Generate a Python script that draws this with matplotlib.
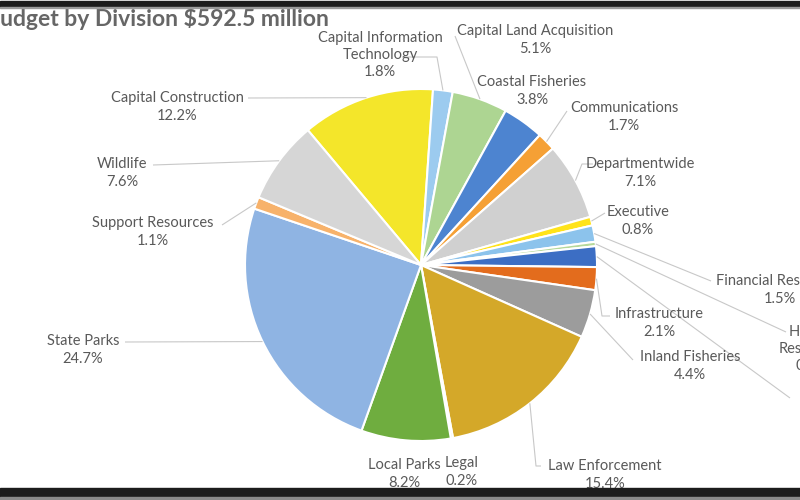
import matplotlib
matplotlib.use('Agg')
import matplotlib.pyplot as plt
from matplotlib.patches import Rectangle
import numpy as np

# data (alphabetical, as the slices run clockwise)
divisions = ['Capital Construction', 'Capital Information\nTechnology', 'Capital Land Acquisition',
             'Coastal Fisheries', 'Communications', 'Departmentwide', 'Executive',
             'Financial Resources', 'Human\nResources', 'Information\nTechnology', 'Infrastructure',
             'Inland Fisheries', 'Law Enforcement', 'Legal', 'Local Parks', 'State Parks',
             'Support Resources', 'Wildlife']
shares = [12.2, 1.8, 5.1, 3.8, 1.7, 7.1, 0.8, 1.5, 0.4, 1.9, 2.1, 4.4, 15.4, 0.2, 8.2, 24.7, 1.1, 7.6]
colors = ['#F4E62A', '#9CCBEF', '#ADD592', '#4D84D0', '#F5A035', '#D0D0D0', '#FFE31A',
          '#8CC3EC', '#B5D89A', '#3C6EC4', '#E36C1D', '#9C9C9C', '#D4A829', '#C8B040',
          '#6FAD3F', '#8FB4E3', '#F7B26B', '#D6D6D6']
title = 'Budget by Division $592.5 million'

# label layout in pixel coords (x right, y down): text centre, leader points from label side
label_pos = [(177, 107), (380, 55), (535, 40), (532, 91), (624, 117), (640, 173), (638, 221),
             (780, 290), (812, 349), (840, 405), (659, 323), (690, 366), (605, 475), (462, 472),
             (404, 474), (83, 350), (153, 232), (122, 173)]
leaders = [[(248, 98)], [(402, 57), (437, 57)], [(455, 36)], None, [(567, 111)],
           [(593, 164), (582, 164)], [(605, 213)], [(711, 281)], [(786, 332)], [(790, 398)],
           [(610, 316), (602, 316)], [(633, 360)], [(541, 466), (536, 466)], None, None,
           [(125, 342)], [(222, 225)], [(153, 165)]]

W, H = 800, 500
cx, cy, r = 421, 265, 176
txt = '#595959'
font = 'Lato'

fig = plt.figure(figsize=(8, 5), dpi=100)
ax = fig.add_axes([0, 0, 1, 1])
wedges, _ = ax.pie(shares, colors=colors, startangle=130, counterclock=False,
                   center=(cx, H - cy), radius=r,
                   wedgeprops=dict(edgecolor='white', linewidth=1.5))
ax.set_xlim(0, W)
ax.set_ylim(0, H)
ax.set_aspect('equal')
ax.axis('off')

for w, name, val, (lx, ly), pts in zip(wedges, divisions, shares, label_pos, leaders):
    mid = np.deg2rad((w.theta1 + w.theta2) / 2)
    ex, ey = cx + r * np.cos(mid), (H - cy) + r * np.sin(mid)
    if pts:
        xs = [p[0] for p in pts] + [ex]
        ys = [H - p[1] for p in pts] + [ey]
        ax.plot(xs, ys, color='#C8C8C8', lw=0.8, solid_capstyle='butt')
    ax.text(lx, H - ly, f'{name}\n{val}%', ha='center', va='center', fontsize=10.5,
            color=txt, family=font, linespacing=1.3)

fig.text(-15 / W, 1 - 19 / H, title, ha='left', va='center', fontsize=16.5,
         fontweight='bold', color='#666666', family=font)

# frame bars of the screenshot
fig.patches.append(Rectangle((0, 1 - 7 / H), 1, 6 / H, transform=fig.transFigure,
                             color='#1c1c1c', zorder=5))
fig.patches.append(Rectangle((0, 1 - 8 / H), 1, 1 / H, transform=fig.transFigure,
                             color='#9a9a9a', zorder=5))
fig.patches.append(Rectangle((0, 3 / H), 1, 9 / H, transform=fig.transFigure,
                             color='#1c1c1c', zorder=5))
fig.patches.append(Rectangle((0, 0), 1, 3 / H, transform=fig.transFigure,
                             color='#8a8a8a', zorder=5))

fig.savefig('out.png', dpi=100)
